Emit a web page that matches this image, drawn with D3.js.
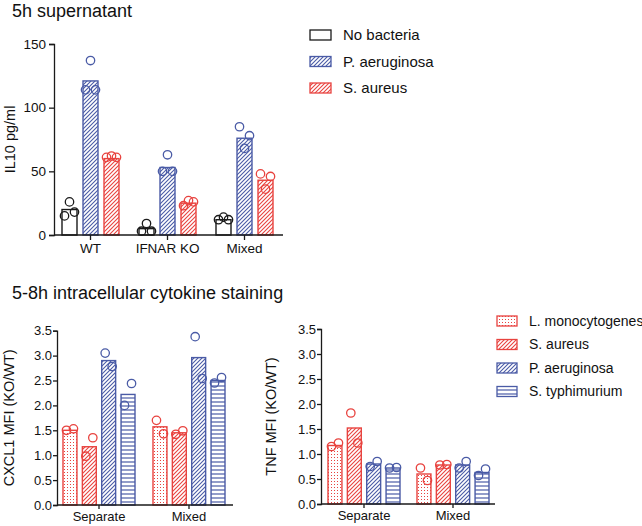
<!DOCTYPE html>
<html>
<head>
<meta charset="utf-8">
<script src="https://cdn.jsdelivr.net/npm/d3@7"></script>
<style>
  body { margin: 0; background: #fff; }
  svg { font-family: "Liberation Sans", Arial, sans-serif; }
</style>
</head>
<body>
<div id="plot_area"></div>
<script>
// Canvas
const w = 642;
const h = 526;

const blue = '#4a5ba6';
const red = '#e8433f';
const black = '#1a1a1a';

// Top panel data: IL10 (pg/ml)
const topGroups = ['WT', 'IFNAR KO', 'Mixed'];
const topSeries = ['No bacteria', 'P. aeruginosa', 'S. aureus'];
const topMeans = [
  [20, 121, 60],
  [5, 53, 25],
  [12, 76, 43]
];
const topPoints = [
  [[15, 26, 18], [114, 137, 114], [61, 62, 61]],
  [[3, 9, 3], [50, 63, 50], [23, 27, 26]],
  [[12, 14, 12], [85, 68, 78], [48, 36, 46]]
];
const topTicks = [0, 50, 100, 150];

// Bottom panels data: MFI KO/WT
const botGroups = ['Separate', 'Mixed'];
const botSeries = ['L. monocytogenes', 'S. aureus', 'P. aeruginosa', 'S. typhimurium'];
const cxclMeans = [
  [1.5, 1.17, 2.9, 2.22],
  [1.57, 1.45, 2.96, 2.5]
];
const cxclPoints = [
  [[1.5, 1.53], [0.98, 1.35], [3.05, 2.78], [2.0, 2.44]],
  [[1.7, 1.43], [1.42, 1.49], [3.38, 2.54], [2.45, 2.56]]
];
const tnfMeans = [
  [1.17, 1.52, 0.8, 0.72],
  [0.6, 0.78, 0.78, 0.63]
];
const tnfPoints = [
  [[1.15, 1.22], [1.82, 1.22], [0.75, 0.85], [0.72, 0.73]],
  [[0.72, 0.47], [0.78, 0.79], [0.72, 0.85], [0.57, 0.7]]
];
const botTicks = [0, 0.5, 1, 1.5, 2, 2.5, 3, 3.5];

const svg = d3.select('#plot_area')
  .append('svg')
  .attr('width', w)
  .attr('height', h);

// Fill patterns
const defs = svg.append('defs');
function hatch(id, color) {
  const p = defs.append('pattern')
    .attr('id', id)
    .attr('patternUnits', 'userSpaceOnUse')
    .attr('width', 4).attr('height', 4);
  p.append('rect').attr('width', 4).attr('height', 4).attr('fill', '#fff');
  p.append('path')
    .attr('d', 'M-1,1 L1,-1 M0,4 L4,0 M3,5 L5,3')
    .attr('stroke', color).attr('stroke-width', 1.1);
}
hatch('hatchBlue', blue);
hatch('hatchRed', red);

const dots = defs.append('pattern')
  .attr('id', 'dotsRed')
  .attr('patternUnits', 'userSpaceOnUse')
  .attr('width', 3).attr('height', 3);
dots.append('rect').attr('width', 3).attr('height', 3).attr('fill', '#fff');
dots.append('rect').attr('x', 1).attr('y', 1).attr('width', 1).attr('height', 1).attr('fill', red);

const horiz = defs.append('pattern')
  .attr('id', 'horizBlue')
  .attr('patternUnits', 'userSpaceOnUse')
  .attr('width', 4).attr('height', 4);
horiz.append('rect').attr('width', 4).attr('height', 4).attr('fill', '#fff');
horiz.append('line').attr('x1', 0).attr('x2', 4).attr('y1', 2).attr('y2', 2)
  .attr('stroke', blue).attr('stroke-width', 1.2);

const topStyle = [
  { stroke: black, fill: '#fff' },
  { stroke: blue, fill: 'url(#hatchBlue)' },
  { stroke: red, fill: 'url(#hatchRed)' }
];
const botStyle = [
  { stroke: red, fill: 'url(#dotsRed)' },
  { stroke: red, fill: 'url(#hatchRed)' },
  { stroke: blue, fill: 'url(#hatchBlue)' },
  { stroke: blue, fill: 'url(#horizBlue)' }
];

// Generic grouped bar panel
function panel(opt) {
  const xScale = d3.scaleBand()
    .domain(opt.groups)
    .range(opt.xRange);
  const inner = d3.scaleBand()
    .domain(opt.series)
    .range(opt.innerRange)
    .paddingInner(opt.innerPad);
  const yScale = d3.scaleLinear()
    .domain(opt.yDomain)
    .range(opt.yRange);

  const g = svg.append('g');

  opt.groups.forEach(function (grp, gi) {
    const cx = xScale(grp) + xScale.bandwidth() / 2;
    opt.series.forEach(function (s, si) {
      const st = opt.style[si];
      const x0 = cx + inner(s);
      g.append('rect')
        .attr('x', x0)
        .attr('y', yScale(opt.means[gi][si]))
        .attr('width', inner.bandwidth())
        .attr('height', yScale(0) - yScale(opt.means[gi][si]))
        .attr('fill', st.fill)
        .attr('stroke', st.stroke)
        .attr('stroke-width', 1.4);
      const pts = opt.points[gi][si];
      const mid = x0 + inner.bandwidth() / 2;
      g.selectAll(null)
        .data(pts)
        .enter()
        .append('circle')
        .attr('cx', (d, i) => mid + (i - (pts.length - 1) / 2) * opt.spread)
        .attr('cy', (d) => yScale(d))
        .attr('r', 4.2)
        .attr('fill', 'none')
        .attr('stroke', st.stroke)
        .attr('stroke-width', 1.3);
    });
  });

  // x-axis
  const xa = g.append('g')
    .attr('transform', 'translate(0,' + yScale(0) + ')')
    .style('font-size', opt.xFont)
    .call(d3.axisBottom(xScale).tickSizeOuter(0).tickSize(opt.xTick).tickPadding(3));
  xa.select('.domain').attr('d', 'M' + opt.axisX + ',0H' + opt.xEnd);
  xa.selectAll('line, path').attr('stroke', black).attr('stroke-width', 1.3);
  xa.selectAll('text').attr('fill', '#111').style('font-family', 'inherit');

  // y-axis
  const ya = g.append('g')
    .attr('transform', 'translate(' + opt.axisX + ',0)')
    .style('font-size', opt.yFont)
    .call(d3.axisLeft(yScale).tickValues(opt.ticks).tickFormat(opt.fmt)
      .tickSizeOuter(0).tickSize(opt.yTick).tickPadding(opt.yPad));
  ya.selectAll('line, path').attr('stroke', black).attr('stroke-width', 1.3);
  ya.selectAll('text').attr('fill', '#111').style('font-family', 'inherit');

  // y label
  g.append('text')
    .attr('transform', 'translate(' + opt.labelX + ',' + (opt.yRange[0] + opt.yRange[1]) / 2 + ') rotate(-90)')
    .attr('text-anchor', 'middle')
    .style('font-size', '14.5px')
    .attr('fill', '#111')
    .text(opt.label);
}

panel({
  groups: topGroups, series: topSeries, means: topMeans, points: topPoints,
  style: topStyle,
  xRange: [52, 283], innerRange: [-28.5, 28.5], innerPad: 0.286,
  yDomain: [0, 150], yRange: [235, 44],
  ticks: topTicks, fmt: d3.format('d'),
  axisX: 54, xEnd: 283, xTick: 5, xFont: '13.5px',
  yTick: 5, yPad: 3, yFont: '13.5px',
  spread: 5, label: 'IL10 pg/ml', labelX: 15
});

panel({
  groups: botGroups, series: botSeries, means: cxclMeans, points: cxclPoints,
  style: botStyle,
  xRange: [54, 234], innerRange: [-36, 36], innerPad: 0.28,
  yDomain: [0, 3.5], yRange: [505, 330.7],
  ticks: botTicks, fmt: d3.format('.1f'),
  axisX: 57, xEnd: 233, xTick: 4, xFont: '13px',
  yTick: 4, yPad: 1, yFont: '13px',
  spread: 7, label: 'CXCL1 MFI (KO/WT)', labelX: 14
});

panel({
  groups: botGroups, series: botSeries, means: tnfMeans, points: tnfPoints,
  style: botStyle,
  xRange: [319.5, 497.5], innerRange: [-36, 36], innerPad: 0.28,
  yDomain: [0, 3.5], yRange: [504, 329],
  ticks: botTicks, fmt: d3.format('.1f'),
  axisX: 321, xEnd: 495, xTick: 4, xFont: '13px',
  yTick: 4, yPad: 1, yFont: '13px',
  spread: 7, label: 'TNF MFI (KO/WT)', labelX: 276
});

// Titles
svg.append('text')
  .attr('x', 12).attr('y', 17)
  .style('font-size', '18px')
  .attr('fill', '#111')
  .text('5h supernatant');
svg.append('text')
  .attr('x', 12).attr('y', 299)
  .style('font-size', '18px')
  .attr('fill', '#111')
  .text('5-8h intracellular cytokine staining');

// Legends
function legend(names, styles, x, y0, dy, bw, font) {
  const lg = svg.append('g');
  names.forEach(function (n, i) {
    const cy = y0 + i * dy;
    lg.append('rect')
      .attr('x', x).attr('y', cy - 5)
      .attr('width', bw).attr('height', 10)
      .attr('fill', styles[i].fill)
      .attr('stroke', styles[i].stroke)
      .attr('stroke-width', 1.3);
    lg.append('text')
      .attr('x', x + bw + 12).attr('y', cy)
      .attr('dy', '0.35em')
      .style('font-size', font)
      .attr('fill', '#111')
      .text(n);
  });
}
legend(topSeries, topStyle, 310, 35, 26.5, 21, '15px');
legend(botSeries, botStyle, 497, 321, 23.5, 20, '14px');
</script>
</body>
</html>
